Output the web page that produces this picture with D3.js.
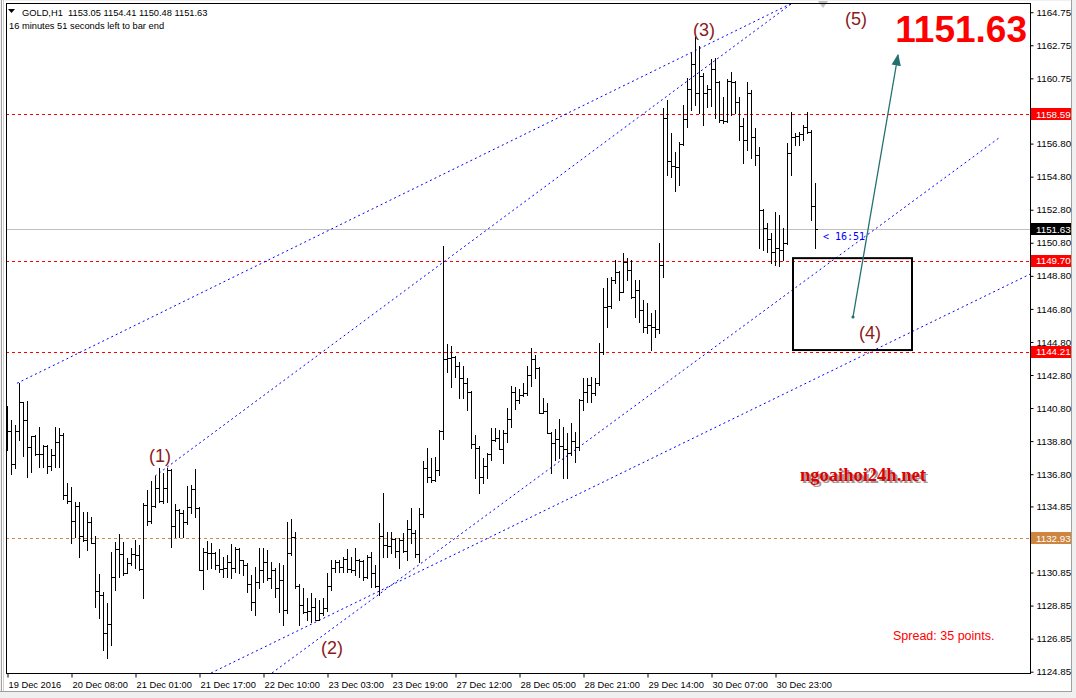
<!DOCTYPE html>
<html><head><meta charset="utf-8">
<script src="https://cdn.jsdelivr.net/npm/d3@7"></script>
<style>body{margin:0;background:#f0f0f0;}svg{display:block;}</style>
</head><body>
<svg id="chart" width="1076" height="698"></svg>
<script>
// ---------- DATA (GOLD H1, bar index 0..202) ----------
const opens = [
1139.60,1139.40,1137.40,1139.40,1141.15,1140.07,1138.42,1139.10,1138.00,1138.05,
1138.50,1137.30,1137.97,1138.74,1139.17,1135.54,1135.20,1133.98,1134.87,1133.06,
1132.81,1133.90,1132.65,1129.73,1129.50,1127.17,1127.73,1130.60,1132.25,1132.00,
1130.84,1131.40,1132.00,1131.91,1131.04,1134.93,1133.98,1134.87,1135.94,1135.20,
1135.94,1137.05,1133.68,1134.63,1134.47,1133.92,1134.83,1135.90,1134.73,1131.00,
1132.07,1132.05,1132.05,1131.30,1131.04,1131.10,1131.51,1131.10,1132.25,1131.61,
1131.30,1130.16,1129.09,1130.30,1131.00,1131.51,1130.50,1131.00,1129.89,1130.40,
1128.58,1132.01,1132.98,1130.03,1128.88,1128.48,1128.50,1128.74,1128.00,1128.38,
1128.68,1130.03,1131.10,1131.51,1131.16,1131.65,1131.04,1131.00,1131.61,1131.55,
1130.60,1131.77,1130.84,1130.05,1133.06,1132.50,1132.45,1132.90,1132.17,1132.82,
1132.15,1133.46,1133.22,1132.00,1134.40,1137.20,1136.60,1136.45,1137.05,1139.40,
1143.77,1143.80,1143.90,1143.35,1142.60,1142.33,1141.80,1138.60,1138.40,1136.65,
1137.30,1138.02,1138.87,1138.97,1138.30,1139.27,1140.12,1141.79,1141.29,1141.60,
1141.73,1142.80,1143.75,1143.20,1140.52,1140.60,1139.30,1138.70,1138.90,1138.50,
1138.30,1138.06,1138.80,1138.46,1141.29,1141.79,1142.20,1141.69,1142.30,1144.21,
1146.93,1146.95,1148.55,1149.05,1147.84,1149.65,1149.15,1147.50,1147.94,1146.73,
1145.72,1145.80,1145.72,1145.60,1149.45,1158.33,1155.74,1155.45,1155.40,1156.80,
1158.27,1160.08,1161.61,1159.84,1160.89,1159.84,1160.08,1161.29,1160.54,1158.23,
1158.19,1160.60,1160.54,1159.33,1157.86,1157.02,1159.88,1157.18,1156.10,1152.78,
1151.67,1151.00,1150.26,1150.50,1150.36,1150.80,1156.21,1157.18,1157.26,1157.38,
1157.78,1157.52,1153.05];
const highs = [
1140.92,1140.07,1139.80,1142.29,1141.18,1141.22,1139.14,1139.16,1139.63,1138.56,
1138.56,1138.32,1139.63,1139.57,1139.27,1136.29,1136.04,1135.14,1135.14,1134.53,
1134.53,1134.23,1133.06,1130.76,1129.69,1128.98,1132.11,1132.71,1133.18,1132.71,
1131.71,1132.31,1132.81,1132.51,1135.03,1135.84,1136.40,1136.69,1137.15,1136.85,
1137.15,1137.10,1134.99,1134.67,1134.63,1136.10,1136.14,1137.11,1134.80,1132.31,
1132.76,1132.65,1132.11,1132.25,1131.81,1131.91,1132.58,1132.41,1132.31,1131.61,
1131.41,1130.70,1131.20,1132.31,1132.31,1132.21,1131.51,1131.10,1131.41,1131.30,
1133.93,1134.09,1133.32,1130.16,1129.89,1129.29,1129.59,1129.29,1129.19,1129.29,
1130.80,1131.61,1131.61,1131.61,1131.81,1132.25,1131.81,1132.31,1131.65,1131.60,
1131.91,1132.11,1131.31,1133.83,1135.68,1133.32,1133.32,1132.92,1132.92,1133.22,
1134.03,1134.73,1133.42,1134.73,1137.60,1138.40,1137.76,1137.86,1139.50,1150.60,
1144.70,1144.55,1143.95,1143.60,1143.35,1142.60,1141.85,1139.20,1138.50,1137.76,
1138.06,1139.57,1139.57,1139.47,1139.47,1140.78,1142.13,1142.09,1141.93,1142.30,
1143.35,1144.41,1144.00,1143.30,1141.40,1141.10,1139.37,1139.51,1140.12,1139.67,
1139.27,1139.87,1139.37,1141.35,1142.60,1142.60,1142.70,1142.60,1144.72,1148.04,
1148.65,1148.75,1149.76,1149.10,1150.20,1149.85,1149.76,1148.55,1148.55,1147.34,
1147.14,1146.53,1146.73,1150.76,1158.93,1159.44,1157.42,1156.31,1156.91,1159.13,
1160.75,1162.26,1163.27,1162.70,1161.09,1160.34,1161.90,1161.96,1160.60,1159.64,
1160.69,1161.15,1160.60,1159.64,1158.33,1160.54,1160.04,1157.72,1156.61,1152.85,
1151.97,1151.37,1152.68,1152.48,1151.67,1156.81,1158.73,1157.42,1157.52,1157.92,
1158.73,1157.60,1154.41];
const lows = [
1138.26,1136.81,1137.20,1138.86,1137.90,1136.65,1136.95,1137.96,1137.25,1137.21,
1136.85,1137.05,1137.25,1137.25,1135.28,1135.03,1132.61,1133.02,1131.77,1132.76,
1132.21,1132.65,1128.74,1128.07,1126.16,1125.66,1126.46,1129.79,1130.60,1130.70,
1130.80,1131.30,1131.10,1131.00,1129.29,1133.72,1133.82,1134.83,1135.14,1135.03,
1135.14,1132.37,1133.02,1133.02,1133.02,1133.80,1134.43,1134.23,1130.99,1129.83,
1131.04,1131.10,1131.06,1130.90,1130.60,1130.56,1130.50,1130.90,1130.80,1130.70,
1129.69,1128.58,1128.30,1129.89,1130.30,1130.40,1129.89,1129.39,1128.48,1127.67,
1128.40,1131.90,1129.89,1127.67,1128.38,1127.98,1127.88,1127.98,1127.95,1128.30,
1128.55,1129.79,1130.90,1130.90,1130.90,1130.90,1130.90,1130.70,1130.60,1130.40,
1130.50,1129.99,1129.99,1129.49,1131.81,1131.81,1132.01,1131.81,1131.10,1132.11,
1131.61,1132.61,1131.81,1131.51,1134.20,1136.30,1136.35,1136.40,1136.75,1138.90,
1143.00,1142.10,1142.70,1141.40,1141.40,1140.68,1138.40,1136.55,1135.64,1136.25,
1136.55,1137.66,1138.80,1138.30,1137.50,1138.77,1139.67,1140.72,1141.09,1141.50,
1141.59,1142.13,1142.60,1140.50,1140.50,1139.27,1136.85,1137.66,1137.76,1136.55,
1136.55,1137.95,1137.56,1138.26,1140.68,1141.19,1141.19,1141.59,1142.20,1144.10,
1145.72,1146.85,1148.34,1147.34,1147.80,1148.55,1147.44,1146.33,1146.03,1145.42,
1145.32,1144.31,1145.12,1145.32,1148.75,1154.90,1154.80,1153.95,1154.30,1156.70,
1157.82,1158.83,1159.13,1158.63,1157.92,1159.03,1159.07,1158.33,1158.13,1158.07,
1158.13,1158.53,1158.63,1157.02,1155.64,1156.41,1155.90,1155.50,1150.46,1150.36,
1150.26,1149.55,1149.45,1149.39,1149.76,1150.70,1154.90,1156.71,1156.71,1157.02,
1157.42,1152.18,1150.48];
const closes = [
1139.40,1137.40,1139.40,1141.15,1140.07,1138.42,1139.10,1138.00,1138.05,1138.50,
1137.30,1137.97,1138.74,1139.17,1135.54,1135.20,1133.98,1134.87,1133.06,1132.81,
1133.90,1132.65,1129.73,1129.50,1127.17,1127.73,1130.60,1132.25,1132.00,1130.84,
1131.40,1132.00,1131.91,1131.04,1134.93,1133.98,1134.87,1135.94,1135.20,1135.94,
1137.05,1133.68,1134.63,1134.47,1133.92,1134.83,1135.90,1134.73,1131.00,1132.07,
1132.05,1132.05,1131.30,1131.04,1131.10,1131.51,1131.10,1132.25,1131.61,1131.30,
1130.16,1129.09,1130.30,1131.00,1131.51,1130.50,1131.00,1129.89,1130.40,1128.58,
1132.01,1132.98,1130.03,1128.88,1128.48,1128.50,1128.74,1128.00,1128.38,1128.68,
1130.03,1131.10,1131.51,1131.16,1131.65,1131.04,1131.00,1131.61,1131.55,1130.60,
1131.77,1130.84,1130.05,1133.06,1132.50,1132.45,1132.90,1132.17,1132.82,1132.15,
1133.46,1133.22,1132.00,1134.40,1137.20,1136.60,1136.45,1137.05,1139.40,1143.77,
1143.80,1143.90,1143.35,1142.60,1142.33,1141.80,1138.60,1138.40,1136.65,1137.30,
1138.02,1138.87,1138.97,1138.30,1139.27,1140.12,1141.79,1141.29,1141.60,1141.73,
1142.80,1143.75,1143.20,1140.52,1140.60,1139.30,1138.70,1138.90,1138.50,1138.30,
1138.06,1138.80,1138.46,1141.29,1141.79,1142.20,1141.69,1142.30,1144.21,1146.93,
1146.95,1148.55,1149.05,1147.84,1149.65,1149.15,1147.50,1147.94,1146.73,1145.72,
1145.80,1145.72,1145.60,1149.45,1158.33,1155.74,1155.45,1155.40,1156.80,1158.27,
1160.08,1161.61,1159.84,1160.89,1159.84,1160.08,1161.29,1160.54,1158.23,1158.19,
1160.60,1160.54,1159.33,1157.86,1157.02,1159.88,1157.18,1156.10,1152.78,1151.67,
1151.00,1150.26,1150.50,1150.36,1150.80,1156.21,1157.18,1157.26,1157.38,1157.78,
1157.52,1153.05,1151.63];

const xTickBars   = [0,16,32,48,64,80,96,112,128,144,160,176,192];
const xTickLabels = ["19 Dec 2016","20 Dec 08:00","21 Dec 01:00","21 Dec 17:00","22 Dec 10:00",
  "23 Dec 03:00","23 Dec 19:00","27 Dec 12:00","28 Dec 05:00","28 Dec 21:00",
  "29 Dec 14:00","30 Dec 07:00","30 Dec 23:00"];
const yTickValues = [1164.75,1162.75,1160.75,1156.80,1154.80,1152.80,1150.80,1148.80,1146.80,
  1144.80,1142.80,1140.80,1138.80,1136.80,1134.85,1130.85,1128.85,1126.85,1124.85];

const levelPrices = [1158.59, 1149.70, 1144.21, 1132.93];
const levelColors = ["#ff0000","#ff0000","#ff0000","#cd8a4a"];
const levelBoxColors = ["#ff0000","#ff0000","#ff0000","#cd853f"];
const currentPrice = 1151.63;

// trend lines: start/end (bar index, price)
const trendX1 = [2.5, 37, 66.25, 51];
const trendP1 = [1142.30, 1136.68, 1124.77, 1124.77];
const trendX2 = [195.75, 196, 248.25, 255.75];
const trendP2 = [1165.24, 1165.24, 1157.19, 1148.90];

const waveLabels = ["(1)","(2)","(3)","(4)","(5)"];
const waveX = [38.25, 81.25, 174.25, 215.75, 212.25];
const waveP = [1137.90, 1126.28, 1163.67, 1145.34, 1164.34];

const boxX = [196.5, 226.25];
const boxP = [1149.87, 1144.31];
const arrowX = [211.5, 222.75];
const arrowP = [1146.31, 1162.16];

// ---------- SCALES ----------
const svg = d3.select("#chart");
const W = 1076, H = 698;
const plotL = 6, plotR = 1030, plotT = 3, plotB = 673;
const x = d3.scaleLinear().domain([0, 1]).range([7, 11]);
const y = d3.scaleLinear().domain([1124.85, 1164.75]).range([671.7, 12.2]);
const FONT = "Liberation Sans, Arial, sans-serif";

// window chrome
svg.append("rect").attr("width", W).attr("height", H).attr("fill", "#f0f0f0");
svg.append("rect").attr("x", 2).attr("y", 1).attr("width", 1070).attr("height", 690).attr("fill", "#ffffff");
svg.append("line").attr("x1", 1071.5).attr("x2", 1071.5).attr("y1", 0).attr("y2", 691).attr("stroke", "#a0a0a0");
svg.append("line").attr("x1", 0).attr("x2", 1072).attr("y1", 691.5).attr("y2", 691.5).attr("stroke", "#a0a0a0");
svg.append("line").attr("x1", 1.5).attr("x2", 1.5).attr("y1", 0).attr("y2", 691).attr("stroke", "#a0a0a0");
svg.append("line").attr("x1", 3.5).attr("x2", 3.5).attr("y1", 0).attr("y2", 691).attr("stroke", "#d0d0d0");

svg.append("defs").append("clipPath").attr("id", "clip")
  .append("rect").attr("x", plotL).attr("y", plotT).attr("width", plotR - plotL).attr("height", plotB - plotT);
const plot = svg.append("g").attr("clip-path", "url(#clip)");

// level lines
const cp = v => Math.round(v) + 0.5;
plot.append("line").attr("x1", plotL).attr("x2", plotR).attr("y1", cp(y(currentPrice))).attr("y2", cp(y(currentPrice)))
  .attr("stroke", "#c0c0c0");
levelPrices.forEach((p, i) => {
  plot.append("line").attr("x1", plotL).attr("x2", plotR).attr("y1", cp(y(p))).attr("y2", cp(y(p)))
    .attr("stroke", levelColors[i]).attr("stroke-dasharray", "3,3");
});

// trend lines
trendX1.forEach((_, i) => {
  plot.append("line").attr("x1", x(trendX1[i])).attr("y1", y(trendP1[i]))
    .attr("x2", x(trendX2[i])).attr("y2", y(trendP2[i]))
    .attr("stroke", "#0000ff").attr("stroke-width", 1).attr("stroke-dasharray", "2,3");
});

// OHLC bars
const bars = plot.append("g").attr("stroke", "#000").attr("stroke-width", 1).attr("shape-rendering", "crispEdges");
closes.forEach((c, i) => {
  const xi = Math.round(x(i));
  bars.append("line").attr("x1", xi + 0.5).attr("x2", xi + 0.5).attr("y1", Math.round(y(highs[i]))).attr("y2", Math.round(y(lows[i])) + 1);
  bars.append("line").attr("x1", xi - 2).attr("x2", xi).attr("y1", cp(y(opens[i]))).attr("y2", cp(y(opens[i])));
  bars.append("line").attr("x1", xi + 1).attr("x2", xi + 3).attr("y1", cp(y(c))).attr("y2", cp(y(c)));
});

// box (4)
plot.append("rect").attr("x", x(boxX[0])).attr("y", y(boxP[0]))
  .attr("width", x(boxX[1]) - x(boxX[0])).attr("height", y(boxP[1]) - y(boxP[0]))
  .attr("fill", "none").attr("stroke", "#000").attr("stroke-width", 2);

// arrow
svg.append("defs").append("marker").attr("id", "ah").attr("viewBox", "0 0 10 10")
  .attr("refX", 9).attr("refY", 5).attr("markerWidth", 9).attr("markerHeight", 9).attr("orient", "auto")
  .append("path").attr("d", "M0,1 L10,5 L0,9 Z").attr("fill", "#237070");
plot.append("line").attr("x1", x(arrowX[0])).attr("y1", y(arrowP[0])).attr("x2", x(arrowX[1])).attr("y2", y(arrowP[1]))
  .attr("stroke", "#237070").attr("stroke-width", 1.3).attr("marker-end", "url(#ah)");
plot.append("circle").attr("cx", x(arrowX[0])).attr("cy", y(arrowP[0])).attr("r", 1.6).attr("fill", "#237070");

// wave labels
waveLabels.forEach((t, i) => {
  svg.append("text").attr("x", x(waveX[i])).attr("y", y(waveP[i])).attr("text-anchor", "middle")
    .attr("dominant-baseline", "central").attr("font-family", FONT)
    .attr("font-size", 18).attr("fill", "#8b1a1a").text(t);
});

// timer text
svg.append("text").attr("x", x(204)).attr("y", y(1151.21)).attr("dominant-baseline", "central")
  .attr("font-family", "DejaVu Sans Mono, monospace").attr("font-size", 10).attr("fill", "#0000ff").text("< 16:51");

// big price
svg.append("text").attr("x", 1027).attr("y", 42).attr("text-anchor", "end")
  .attr("font-family", FONT).attr("font-weight", "bold").attr("font-size", 37)
  .attr("fill", "#ff0000").text("1151.63");

// watermark
svg.append("text").attr("x", 802).attr("y", 483).attr("font-family", "Liberation Serif, serif")
  .attr("font-weight", "bold").attr("font-size", 18.5).attr("fill", "#9a9a9a").text("ngoaihoi24h.net");
svg.append("text").attr("x", 800).attr("y", 481).attr("font-family", "Liberation Serif, serif")
  .attr("font-weight", "bold").attr("font-size", 18.5).attr("fill", "#e00000").text("ngoaihoi24h.net");

svg.append("text").attr("x", 893).attr("y", 640).attr("font-family", FONT)
  .attr("font-size", 12.5).attr("fill", "#ff0000").text("Spread: 35 points.");

// chart shift marker
svg.append("path").attr("d", "M818,1 L828,1 L823,8 Z").attr("fill", "#c0c0c0");

// plot frame
svg.append("rect").attr("x", plotL + 0.5).attr("y", plotT + 0.5).attr("width", plotR - plotL).attr("height", plotB - plotT)
  .attr("fill", "none").attr("stroke", "#000");

// y axis
const yAxis = svg.append("g").attr("transform", `translate(${plotR + 0.5},0)`)
  .call(d3.axisRight(y).tickValues(yTickValues).tickFormat(d3.format(".2f")).tickSize(3).tickPadding(3));
yAxis.select(".domain").remove();
yAxis.selectAll("text").attr("font-family", FONT).attr("font-size", 9.8).attr("fill", "#000");

// price boxes on axis
const boxes = levelPrices.map((p, i) => ({p, c: levelBoxColors[i]})).concat([{p: currentPrice, c: "#000000"}]);
boxes.forEach(b => {
  const yy = y(b.p);
  svg.append("rect").attr("x", plotR + 1).attr("y", Math.round(yy) - 6).attr("width", 40).attr("height", 12).attr("fill", b.c);
  svg.append("text").attr("x", plotR + 6).attr("y", yy).attr("dominant-baseline", "central")
    .attr("font-family", FONT).attr("font-size", 9.8).attr("fill", "#fff")
    .text(b.p.toFixed(2));
});

// x axis
const xAxis = svg.append("g").attr("transform", `translate(0,${plotB + 0.5})`)
  .call(d3.axisBottom(x).tickValues(xTickBars).tickFormat((d, i) => xTickLabels[i]).tickSize(4).tickPadding(4));
xAxis.select(".domain").remove();
xAxis.selectAll(".tick line").attr("transform", "translate(0.5,0)");
xAxis.selectAll("text").attr("text-anchor", "start").attr("dx", 1)
  .attr("font-family", FONT).attr("font-size", 9.3).attr("fill", "#000");

// header
svg.append("path").attr("d", "M8,9 L15,9 L11.5,13 Z").attr("fill", "#000");
svg.append("text").attr("x", 22).attr("y", 15.5).attr("font-family", FONT)
  .attr("font-size", 9.3).attr("fill", "#000").attr("xml:space", "preserve").text("GOLD,H1  1153.05 1154.41 1150.48 1151.63");
svg.append("text").attr("x", 9).attr("y", 28.5).attr("font-family", FONT)
  .attr("font-size", 9.3).attr("fill", "#000").text("16 minutes 51 seconds left to bar end");
</script>
</body></html>
